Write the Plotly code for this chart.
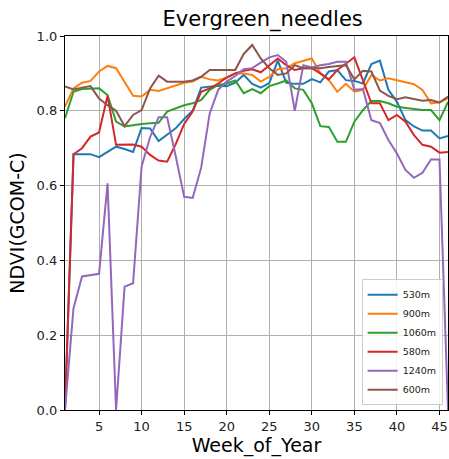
import plotly.graph_objects as go

weeks = list(range(1, 47))

s530 = [0.0, 0.684, 0.684, 0.684, 0.676, 0.689, 0.704, 0.698, 0.69, 0.754,
        0.753, 0.719, 0.735, 0.753, 0.778, 0.80, 0.862, 0.865, 0.867, 0.866,
        0.875, 0.896, 0.872, 0.862, 0.874, 0.934, 0.875, 0.872, 0.872, 0.885,
        0.876, 0.905, 0.909, 0.882, 0.88, 0.873, 0.925, 0.934, 0.856, 0.824,
        0.775, 0.758, 0.747, 0.747, 0.726, 0.733]
s900 = [0.811, 0.86, 0.875, 0.88, 0.905, 0.92, 0.914, 0.878, 0.84, 0.838,
        0.856, 0.853, 0.86, 0.867, 0.875, 0.878, 0.891, 0.884, 0.881, 0.889,
        0.90, 0.90, 0.896, 0.878, 0.891, 0.911, 0.914, 0.927, 0.934, 0.94,
        0.90, 0.882, 0.851, 0.872, 0.851, 0.856, 0.896, 0.881, 0.887, 0.881,
        0.875, 0.871, 0.856, 0.82, 0.823, 0.833]
s1060 = [0.78, 0.851, 0.858, 0.86, 0.86, 0.842, 0.771, 0.758, 0.762, 0.765,
         0.767, 0.768, 0.798, 0.807, 0.815, 0.82, 0.829, 0.856, 0.869, 0.873,
         0.881, 0.847, 0.858, 0.847, 0.866, 0.873, 0.881, 0.86, 0.856, 0.82,
         0.759, 0.757, 0.717, 0.717, 0.771, 0.802, 0.826, 0.826, 0.82, 0.811,
         0.807, 0.805, 0.802, 0.802, 0.775, 0.824]
s580 = [0.0, 0.684, 0.70, 0.731, 0.742, 0.84, 0.709, 0.71, 0.71, 0.704,
        0.682, 0.667, 0.664, 0.71, 0.765, 0.798, 0.851, 0.86, 0.873, 0.889,
        0.90, 0.907, 0.911, 0.903, 0.922, 0.94, 0.922, 0.909, 0.914, 0.914,
        0.90, 0.884, 0.909, 0.927, 0.943, 0.882, 0.82, 0.82, 0.775, 0.789,
        0.771, 0.735, 0.709, 0.704, 0.688, 0.69]
s1240 = [0.0, 0.272, 0.357, 0.361, 0.364, 0.606, 0.0, 0.33, 0.339, 0.651,
         0.73, 0.783, 0.783, 0.68, 0.57, 0.567, 0.648, 0.793, 0.856, 0.878,
         0.893, 0.911, 0.914, 0.929, 0.943, 0.949, 0.931, 0.80, 0.922, 0.916,
         0.922, 0.925, 0.931, 0.931, 0.856, 0.858, 0.775, 0.767, 0.722, 0.686,
         0.642, 0.621, 0.634, 0.67, 0.67, 0.0]
s600 = [0.865, 0.857, 0.862, 0.866, 0.833, 0.815, 0.80, 0.759, 0.789, 0.802,
        0.86, 0.894, 0.878, 0.878, 0.878, 0.881, 0.891, 0.909, 0.909, 0.909,
        0.909, 0.952, 0.976, 0.94, 0.914, 0.896, 0.90, 0.922, 0.914, 0.914,
        0.914, 0.917, 0.92, 0.922, 0.884, 0.907, 0.905, 0.854, 0.84, 0.831,
        0.836, 0.831, 0.827, 0.829, 0.822, 0.838]

series_names = ["530m", "900m", "1060m", "580m", "1240m", "600m"]
series_values = [s530, s900, s1060, s580, s1240, s600]
colors = ["#1f77b4", "#ff7f0e", "#2ca02c", "#d62728", "#9467bd", "#8c564b"]

x_ticks = [5, 10, 15, 20, 25, 30, 35, 40, 45]
y_ticks = [0.0, 0.2, 0.4, 0.6, 0.8, 1.0]

fig = go.Figure()
for name, vals, c in zip(series_names, series_values, colors):
    fig.add_trace(go.Scatter(x=weeks, y=vals, mode="lines", name=name,
                             line=dict(color=c, width=2)))

font = "DejaVu Sans"
fig.update_layout(
    width=449, height=459,
    margin=dict(l=65, r=1, t=36, b=49),
    paper_bgcolor="white", plot_bgcolor="white",
    font=dict(family=font, color="#222222", size=12),
    title=dict(text="Evergreen_needles", x=0.585, xanchor="center",
               y=1 - 19 / 459, yanchor="middle",
               font=dict(size=21, color="black", family=font)),
    showlegend=True,
    legend=dict(x=0.986, y=0.013, xanchor="right", yanchor="bottom",
                bgcolor="rgba(255,255,255,0.85)", bordercolor="#cccccc",
                borderwidth=1, font=dict(size=9.5, color="#222222"),
                tracegroupgap=0, itemwidth=30),
)
fig.update_xaxes(
    range=[1, 46], tickvals=x_ticks, ticks="outside", ticklen=4,
    tickcolor="black", showline=True, linecolor="black", linewidth=1.2,
    mirror=True, showgrid=True, gridcolor="#b0b0b0", gridwidth=1,
    zeroline=False, tickfont=dict(size=13, color="#222222"),
    title=dict(text="Week_of_Year", font=dict(size=19, color="black"), standoff=4),
)
fig.update_yaxes(
    range=[0, 1], tickvals=y_ticks, tickformat=".1f", ticks="outside",
    ticklen=4, tickcolor="black", showline=True, linecolor="black",
    linewidth=1.2, mirror=True, showgrid=True, gridcolor="#b0b0b0",
    gridwidth=1, zeroline=False, tickfont=dict(size=13, color="#222222"),
    title=dict(text="NDVI(GCOM-C)", font=dict(size=19, color="black"), standoff=6),
)

fig.write_html("out.html")
